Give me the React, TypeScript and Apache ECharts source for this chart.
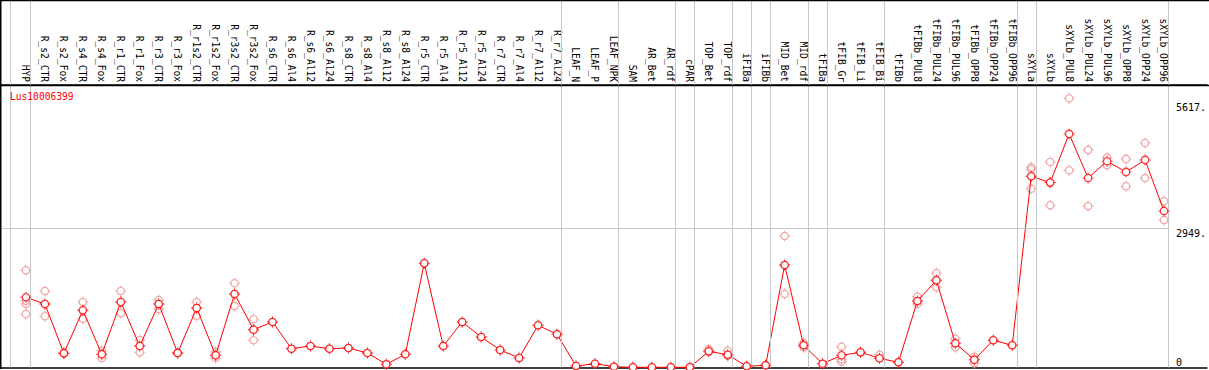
import React, { useEffect, useRef } from "react";
import * as echarts from "echarts";

const geneName = "Lus10006399";

const categories = [
  "HYP", "R_s2_CTR", "R_s2_Fox", "R_s4_CTR", "R_s4_Fox", "R_r1_CTR", "R_r1_Fox",
  "R_r3_CTR", "R_r3_Fox", "R_r1s2_CTR", "R_r1s2_Fox", "R_r3s2_CTR", "R_r3s2_Fox",
  "R_s6_CTR", "R_s6_Al4", "R_s6_Al12", "R_s6_Al24", "R_s8_CTR", "R_s8_Al4",
  "R_s8_Al12", "R_s8_Al24", "R_r5_CTR", "R_r5_Al4", "R_r5_Al12", "R_r5_Al24",
  "R_r7_CTR", "R_r7_Al4", "R_r7_Al12", "R_r7_Al24", "LEAF_N", "LEAF_P", "LEAF_NPK",
  "SAM", "AR_Bet", "AR_rdf", "cPAR", "TOP_Bet", "TOP_rdf", "iFIBa", "iFIBb",
  "MID_Bet", "MID_rdf", "tFIBa", "tFIB_Gr", "tFIB_Li", "tFIB_Bi", "tFIBb",
  "tFIBb_PUL8", "tFIBb_PUL24", "tFIBb_PUL96", "tFIBb_OPP8", "tFIBb_OPP24", "tFIBb_OPP96",
  "sXYLa", "sXYLb", "sXYLb_PUL8", "sXYLb_PUL24", "sXYLb_PUL96", "sXYLb_OPP8",
  "sXYLb_OPP24", "sXYLb_OPP96",
];

const meanValues = [
  1490, 1348, 301, 1214, 280, 1391, 456, 1348, 308, 1263, 259, 1561, 803,
  966, 399, 456, 399, 414, 308, 68, 280,
  2212, 456, 966, 648, 372, 202, 896, 705,
  32, 81, 17, 3, 4, 4, 3, 344, 272, 25, 47,
  2176, 471, 81, 259, 323, 195, 110,
  1412, 1851, 514, 166, 577, 471,
  4059, 3924, 4958, 4023, 4378, 4151, 4406, 3323,
];

const replicateValues: number[][] = [
  [2064, 1418, 1348, 1136], [1624, 1087, 1348], [295, 310, 301], [1391, 1036, 1214],
  [357, 202, 280], [1624, 1151, 1391], [584, 323, 456], [1433, 1242, 1348],
  [308, 305, 312], [1391, 1100, 1263], [329, 202, 259], [1788, 1306, 1561],
  [1023, 577, 803],
  [966], [399], [456], [399], [414], [308], [68], [280],
  [2212], [456], [966], [648], [372], [202], [896], [705],
  [32], [81], [17], [3], [4], [4], [3],
  [393, 329, 344], [357, 244, 272], [25], [47],
  [2792, 1561, 2176], [429, 520, 471], [81], [442, 123, 174], [323, 320], [272, 195], [110],
  [1503, 1348, 1412], [2006, 1703, 1851], [611, 429, 514], [229, 89, 166], [577], [471],
  [4251, 4208, 3796, 4059], [4363, 3444, 3924], [5715, 4187], [4618, 3429],
  [4454, 4293], [4427, 3847], [4766, 4023], [3529, 3132],
];

// separators drawn just after these category indices
const groupBreaks = [-1.05, 0, 28, 31, 34, 35, 37, 38, 39, 41, 42, 45, 52, 53, 60];
const yTickValues = [2949, 5617];
const yZeroTick = [0];
const yMax = 7800;

const MONO = "'DejaVu Sans Mono', monospace";
const X_MIN = -26 / 19;
const X_MAX = (1209 - 26) / 19;
const BREAK_OFFSET = 0.24;

const ring =
  "M0 -4.3 A4.3 4.3 0 1 1 0 4.3 A4.3 4.3 0 1 1 0 -4.3 Z " +
  "M0 -3 A3 3 0 1 0 0 3 A3 3 0 1 0 0 -3 Z ";
const ticks =
  "M-0.5 -5.5 L0.5 -5.5 L0.5 -3.9 L-0.5 -3.9 Z " +
  "M-0.5 3.9 L0.5 3.9 L0.5 5.5 L-0.5 5.5 Z " +
  "M-5.5 -0.5 L-3.9 -0.5 L-3.9 0.5 L-5.5 0.5 Z " +
  "M3.9 -0.5 L5.5 -0.5 L5.5 0.5 L3.9 0.5 Z";
const markerPath = "path://" + ring + ticks;

export default function App() {
  const ref = useRef<HTMLDivElement>(null);

  useEffect(() => {
    document.body.style.margin = "0";
    if (!ref.current) return;
    const chart = echarts.init(ref.current, undefined, { renderer: "svg" });

    const meanData = meanValues.map((v, i) => [i, v]);
    const repData: number[][] = [];
    replicateValues.forEach((vals, i) => vals.forEach((v) => repData.push([i, v])));

    const option: any = {
      animation: false,
      title: {
        text: geneName,
        left: 10,
        top: 91,
        padding: 0,
        textStyle: { color: "#ff0000", fontFamily: MONO, fontSize: 9.6, fontWeight: "normal" },
      },
      grid: { left: 0, right: 0, top: 0, bottom: 2.5, containLabel: false },
      xAxis: [
        {
          type: "value",
          min: X_MIN,
          max: X_MAX,
          position: "bottom",
          axisLine: { show: true, onZero: false, lineStyle: { color: "#000", width: 1.5 } },
          axisTick: { show: false },
          axisLabel: { show: false },
          splitLine: { show: false },
        },
        {
          type: "value",
          min: X_MIN,
          max: X_MAX,
          position: "top",
          offset: -85,
          axisLine: { show: true, onZero: false, lineStyle: { color: "#000", width: 1.5 } },
          axisTick: { show: false },
          splitLine: { show: false },
          axisLabel: {
            show: true,
            customValues: categories.map((_, i) => i),
            formatter: (v: number) => categories[Math.round(v)] ?? "",
            rotate: 90,
            margin: 3,
            color: "#000",
            fontFamily: MONO,
            fontSize: 9.6,
          },
        },
      ],
      yAxis: [
        {
          type: "value",
          min: 0,
          max: yMax,
          position: "right",
          offset: -31,
          axisLine: { show: false, onZero: false },
          axisTick: { show: false },
          splitLine: { show: false },
          axisLabel: {
            show: true,
            customValues: yTickValues,
            formatter: (v: number) => `${v}.`,
            verticalAlign: "top",
            lineHeight: 10,
            margin: 0,
            color: "#000",
            fontFamily: MONO,
            fontSize: 10,
          },
        },
        {
          type: "value",
          min: 0,
          max: yMax,
          position: "right",
          offset: -31,
          axisLine: { show: false, onZero: false },
          axisTick: { show: false },
          splitLine: { show: false },
          axisLabel: {
            show: true,
            customValues: yZeroTick,
            formatter: (v: number) => `${v}`,
            verticalAlign: "bottom",
            margin: 0,
            color: "#000",
            fontFamily: MONO,
            fontSize: 10,
          },
        },
      ],
      graphic: [
        { type: "line", shape: { x1: 0, y1: 0.5, x2: 1209, y2: 0.5 }, style: { stroke: "#000", lineWidth: 1.5 }, silent: true, z: 10 },
        { type: "line", shape: { x1: 0, y1: 85.5, x2: 1209, y2: 85.5 }, style: { stroke: "#000", lineWidth: 1.5 }, silent: true, z: 10 },
        { type: "line", shape: { x1: 0.75, y1: 0, x2: 0.75, y2: 369 }, style: { stroke: "#000", lineWidth: 1.5 }, silent: true, z: 10 },
      ],
      series: [
        {
          type: "scatter",
          name: "replicates",
          data: repData,
          symbol: markerPath,
          symbolSize: 11,
          itemStyle: { color: "#f19c9c", opacity: 0.9 },
          z: 3,
          silent: true,
          markLine: {
            silent: true,
            symbol: "none",
            label: { show: false },
            lineStyle: { color: "#c8c8c8", width: 1, type: "solid" },
            data: [
              ...groupBreaks.map((b) => ({ xAxis: b + BREAK_OFFSET })),
              [
                { coord: [X_MIN, yTickValues[0]] },
                { coord: [60 + BREAK_OFFSET, yTickValues[0]] },
              ],
            ],
          },
        },
        {
          type: "line",
          name: "mean",
          data: meanData,
          symbol: "circle",
          symbolSize: 7,
          showAllSymbol: true,
          itemStyle: { color: "#ffffff", borderWidth: 0 },
          lineStyle: { color: "#ff0000", width: 1 },
          z: 4,
          silent: true,
        },
        {
          type: "scatter",
          name: "meanMarkers",
          data: meanData,
          symbol: markerPath,
          symbolSize: 11,
          itemStyle: { color: "#ff0000" },
          z: 5,
          silent: true,
        },
      ],
    };

    chart.setOption(option);
    return () => chart.dispose();
  }, []);

  return <div ref={ref} style={{ width: 1209, height: 370 }} />;
}
